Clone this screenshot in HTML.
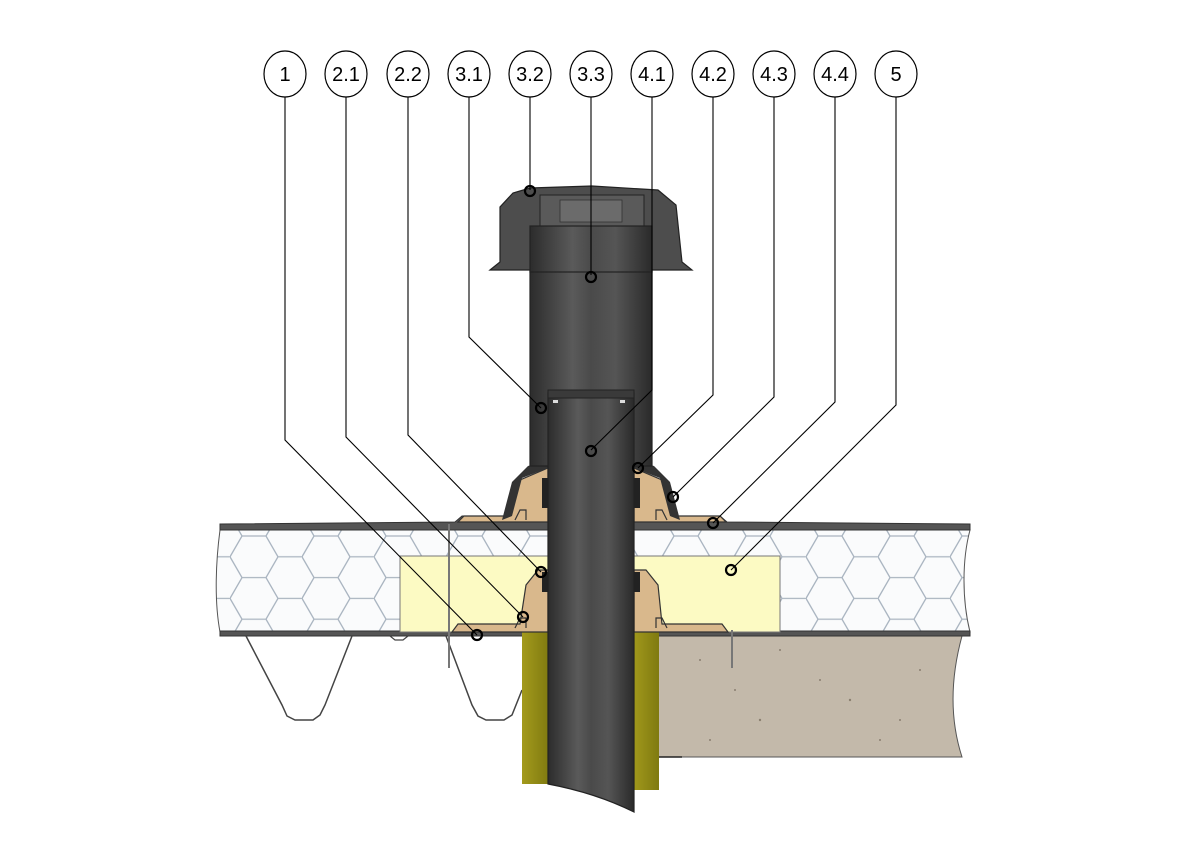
<!DOCTYPE html>
<html><head><meta charset="utf-8"><style>
html,body{margin:0;padding:0;background:#fff;}
svg{display:block;}
text{font-family:"Liberation Sans",sans-serif;font-size:20px;fill:#000;}
</style></head><body>
<svg width="1200" height="846" viewBox="0 0 1200 846" xmlns="http://www.w3.org/2000/svg">
<defs>
<pattern id="hex" width="72" height="41.6" patternUnits="userSpaceOnUse" x="230" y="536">
<path d="M0,20.8 L12,0 L36,0 L48,20.8 L36,41.6 L12,41.6 Z M48,20.8 L72,20.8" fill="none" stroke="#a9b4c0" stroke-width="1.3"/>
</pattern>
<linearGradient id="pipe" x1="0" x2="1">
<stop offset="0" stop-color="#2c2c2c"/><stop offset="0.35" stop-color="#5a5a5a"/><stop offset="0.5" stop-color="#4a4a4a"/><stop offset="0.7" stop-color="#555"/><stop offset="1" stop-color="#2a2a2a"/>
</linearGradient>
<linearGradient id="wool" x1="0" x2="1">
<stop offset="0" stop-color="#a39a1c"/><stop offset="1" stop-color="#7f7a10"/>
</linearGradient>
</defs>

<!-- concrete -->
<path d="M655,636 L962,636 C950,680 950,720 962,757 L655,757 Z" fill="#c3b9aa" stroke="#555" stroke-width="1"/>
<g fill="#8a7f70">
<circle cx="700" cy="660" r="1"/><circle cx="780" cy="650" r="1"/><circle cx="850" cy="700" r="1.2"/><circle cx="920" cy="670" r="1"/><circle cx="760" cy="720" r="1.2"/><circle cx="880" cy="740" r="1"/><circle cx="710" cy="740" r="1"/><circle cx="820" cy="680" r="1"/><circle cx="900" cy="720" r="1"/><circle cx="735" cy="690" r="1"/>
</g>
<line x1="655" y1="757" x2="682" y2="757" stroke="#222" stroke-width="1.5"/>

<!-- panel insulation -->
<path d="M220,530 L970,530 C962,560 962,600 970,632 L220,632 C214,600 216,560 220,530 Z" fill="#fafbfc"/>
<path d="M220,530 L970,530 C962,560 962,600 970,632 L220,632 C214,600 216,560 220,530 Z" fill="url(#hex)" stroke="#555" stroke-width="1"/>
<!-- skins -->
<path d="M220,524 L455,522 L462,516 L720,516 L727,522 L970,524 L970,530 L220,530 Z" fill="#555" stroke="#333" stroke-width="1"/>
<path d="M220,631 L970,631 L970,636 L220,636 Z" fill="#555" stroke="#333" stroke-width="1"/>

<!-- yellow block -->
<rect x="400" y="556" width="380" height="76" fill="#fcfac3" stroke="#777" stroke-width="1"/>

<!-- trapezoidal sheeting -->
<path d="M246,636 L282,705 L287,716 L295,720 L313,720 L320,715 L325,705 L352,636" fill="none" stroke="#444" stroke-width="1.5"/>
<path d="M390,636 L395,640 L403,640 L408,636" fill="none" stroke="#444" stroke-width="1.2"/>
<path d="M446,636 L472,705 L478,716 L486,720 L504,720 L512,715 L518,700 L522,690" fill="none" stroke="#444" stroke-width="1.5"/>
<!-- screws -->
<line x1="449" y1="524" x2="449" y2="668" stroke="#777" stroke-width="2"/>
<line x1="732" y1="630" x2="732" y2="668" stroke="#777" stroke-width="2"/>

<!-- wool sleeve -->
<rect x="522" y="632" width="27" height="152" fill="url(#wool)"/>
<rect x="632" y="632" width="27" height="158" fill="url(#wool)"/>

<!-- lower flange (tan) -->
<path d="M452,632 L458,624 L520,624 L526,585 L538,570 L548,570 L548,632 Z" fill="#d9b88c" stroke="#333" stroke-width="1.2"/>
<path d="M634,570 L646,570 L658,585 L662,624 L722,624 L728,632 L634,632 Z" fill="#d9b88c" stroke="#333" stroke-width="1.2"/>
<!-- upper flange (tan) -->
<path d="M458,522 L464,516 L510,516 L520,480 L548,468 L548,522 Z" fill="#d9b88c" stroke="#333" stroke-width="1.2"/>
<path d="M634,468 L662,480 L672,516 L720,516 L726,522 L634,522 Z" fill="#d9b88c" stroke="#333" stroke-width="1.2"/>
<!-- dark outer shell of upper collar -->
<path d="M502,520 L512,482 L528,466 L548,460 L548,468 L522,478 L512,516 Z" fill="#333"/>
<path d="M680,520 L670,482 L654,466 L634,460 L634,468 L660,478 L670,516 Z" fill="#333"/>
<!-- seal ribs -->
<g fill="#222"><rect x="542" y="478" width="6" height="30"/><rect x="634" y="478" width="6" height="30"/><rect x="542" y="572" width="6" height="20"/><rect x="634" y="572" width="6" height="20"/></g>
<g fill="none" stroke="#333" stroke-width="1.2"><path d="M515,520 L520,510 L526,510 L526,520"/><path d="M667,520 L662,510 L656,510 L656,520"/><path d="M515,628 L520,618 L526,618 L526,628"/><path d="M667,628 L662,618 L656,618 L656,628"/></g>

<!-- upper pipe 3.3 -->
<rect x="530" y="226" width="122" height="240" fill="url(#pipe)" stroke="#222" stroke-width="1.2"/>
<!-- hood -->
<path d="M490,270 L500,262 L500,207 L513,193 L530,188 L592,186 L658,190 L676,205 L682,262 L692,270 Z" fill="#4d4d4d" stroke="#222" stroke-width="1.2"/>
<rect x="540" y="195" width="104" height="32" fill="#5a5a5a" stroke="#222" stroke-width="1"/>
<rect x="560" y="200" width="62" height="22" fill="#6b6b6b" stroke="#333" stroke-width="0.8"/>
<rect x="530" y="226" width="122" height="46" fill="url(#pipe)" stroke="#222" stroke-width="1.2"/>

<!-- inner pipe 4.1 -->
<path d="M548,393 L634,393 L634,812 C610,800 580,790 548,784 Z" fill="url(#pipe)" stroke="#222" stroke-width="1.2"/>
<rect x="548" y="390" width="86" height="8" fill="#3a3a3a" stroke="#222" stroke-width="1"/>
<rect x="553" y="400" width="5" height="3" fill="#ddd"/><rect x="620" y="400" width="5" height="3" fill="#ddd"/>

<!-- leader lines -->
<g fill="none" stroke="#000" stroke-width="1.1">
<polyline points="285,97 285,440 477,635"/>
<polyline points="346,97 346,437 523,617"/>
<polyline points="408,97 408,435 541,572"/>
<polyline points="469,97 469,337 541,408"/>
<polyline points="530,97 530,190"/>
<polyline points="591,97 591,275"/>
<polyline points="652,97 652,390 591,450"/>
<polyline points="713,97 713,395 638,468"/>
<polyline points="774,97 774,397 673,497"/>
<polyline points="835,97 835,402 713,523"/>
<polyline points="896,97 896,405 731,570"/>
</g>
<g fill="none" stroke="#000" stroke-width="2.2">
<circle cx="477" cy="635" r="5"/><circle cx="523" cy="617" r="5"/><circle cx="541" cy="572" r="5"/><circle cx="541" cy="408" r="5"/><circle cx="530" cy="191" r="5"/><circle cx="591" cy="277" r="5"/><circle cx="591" cy="451" r="5"/><circle cx="638" cy="468" r="5"/><circle cx="673" cy="497" r="5"/><circle cx="713" cy="523" r="5"/><circle cx="731" cy="570" r="5"/>
</g>

<!-- label bubbles -->
<g fill="#fff" stroke="#000" stroke-width="1.2">
<ellipse cx="285" cy="74" rx="21" ry="23"/><ellipse cx="346" cy="74" rx="21" ry="23"/><ellipse cx="408" cy="74" rx="21" ry="23"/><ellipse cx="469" cy="74" rx="21" ry="23"/><ellipse cx="530" cy="74" rx="21" ry="23"/><ellipse cx="591" cy="74" rx="21" ry="23"/><ellipse cx="652" cy="74" rx="21" ry="23"/><ellipse cx="713" cy="74" rx="21" ry="23"/><ellipse cx="774" cy="74" rx="21" ry="23"/><ellipse cx="835" cy="74" rx="21" ry="23"/><ellipse cx="896" cy="74" rx="21" ry="23"/>
</g>
<g text-anchor="middle">
<text x="285" y="81">1</text><text x="346" y="81">2.1</text><text x="408" y="81">2.2</text><text x="469" y="81">3.1</text><text x="530" y="81">3.2</text><text x="591" y="81">3.3</text><text x="652" y="81">4.1</text><text x="713" y="81">4.2</text><text x="774" y="81">4.3</text><text x="835" y="81">4.4</text><text x="896" y="81">5</text>
</g>
</svg>
</body></html>
